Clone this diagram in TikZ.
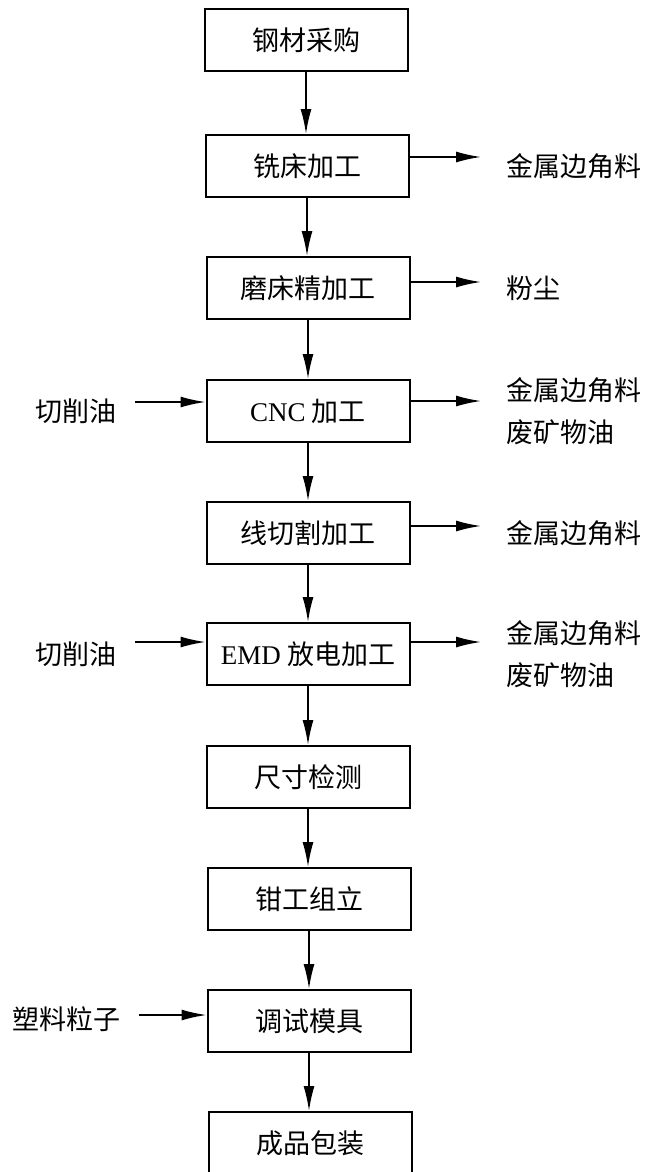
\documentclass[tikz,border=0pt]{standalone}
\usepackage{fontspec}
\setmainfont{Liberation Serif}
\newfontfamily\cjk{Noto Sans CJK SC}
\usetikzlibrary{arrows.meta}
\begin{document}
\begin{tikzpicture}[x=1pt,y=-1pt,
 proc/.style={draw,line width=2pt,minimum width=203pt,minimum height=62pt,inner sep=0pt,font=\fontsize{27}{30}\selectfont\cjk},
 lbl/.style={font=\fontsize{27}{42}\selectfont\cjk,inner sep=0pt,anchor=west,align=left},
 arr/.style={line width=1.7pt,-{Latex[length=25pt,width=11pt]}}]
\useasboundingbox (0,0) rectangle (648,1172);
% process boxes
\node[proc] (b1) at (306,40) {钢材采购};
\node[proc] (b2) at (307,166) {铣床加工};
\node[proc] (b3) at (308,288) {磨床精加工};
\node[proc] (b4) at (308,411) {{\rmfamily CNC} 加工};
\node[proc] (b5) at (308,533) {线切割加工};
\node[proc] (b6) at (308,654) {{\rmfamily EMD} 放电加工};
\node[proc] (b7) at (308,777) {尺寸检测};
\node[proc] (b8) at (309,899) {钳工组立};
\node[proc] (b9) at (309,1021) {调试模具};
\node[proc] (b10) at (310,1143) {成品包装};
% vertical flow
\foreach \a/\b in {b1/b2,b2/b3,b3/b4,b4/b5,b5/b6,b6/b7,b7/b8,b8/b9,b9/b10}
  \draw[arr] (\a.south) -- (\a.south |- \b.north);
% outputs
\coordinate (r2) at (481,157);
\coordinate (r3) at (481,282);
\coordinate (r4) at (481,401);
\coordinate (r5) at (481,526);
\coordinate (r6) at (481,642);
\draw[arr] (b2.east |- r2) -- (r2);
\draw[arr] (b3.east |- r3) -- (r3);
\draw[arr] (b4.east |- r4) -- (r4);
\draw[arr] (b5.east |- r5) -- (r5);
\draw[arr] (b6.east |- r6) -- (r6);
\node[lbl] (o2) at (506,166) {金属边角料};
\node[lbl] (o3) at (506,288) {粉尘};
\node[lbl] (o4) at (506,411) {金属边角料\\废矿物油};
\node[lbl] (o5) at (506,533) {金属边角料};
\node[lbl] (o6) at (506,654) {金属边角料\\废矿物油};
% inputs
\node[lbl] (i4) at (35,411) {切削油};
\node[lbl] (i6) at (35,654) {切削油};
\node[lbl] (i9) at (12,1019) {塑料粒子};
\coordinate (l4) at (135,402);
\coordinate (l6) at (135,642);
\coordinate (l9) at (139,1015);
\draw[arr] (l4) -- (l4 -| b4.west);
\draw[arr] (l6) -- (l6 -| b6.west);
\draw[arr] (l9) -- (l9 -| b9.west);
\end{tikzpicture}
\end{document}
